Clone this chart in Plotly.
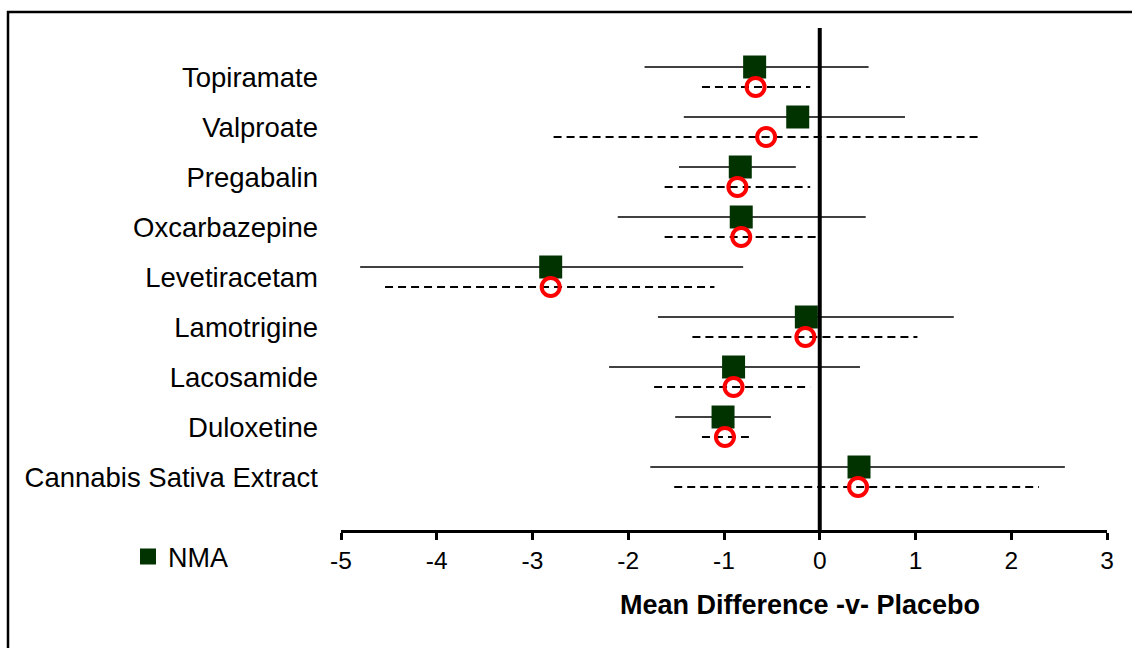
import plotly.graph_objects as go

# Treatments, listed top to bottom
treatments = ["Topiramate", "Valproate", "Pregabalin", "Oxcarbazepine", "Levetiracetam",
              "Lamotrigine", "Lacosamide", "Duloxetine", "Cannabis Sativa Extract"]

# Network meta-analysis: mean difference vs placebo with 95% CI
nma_est = [-0.68, -0.23, -0.83, -0.82, -2.81, -0.14, -0.90, -1.01, 0.41]
nma_lo = [-1.83, -1.42, -1.47, -2.11, -4.80, -1.69, -2.20, -1.51, -1.77]
nma_hi = [0.51, 0.89, -0.25, 0.48, -0.80, 1.40, 0.42, -0.51, 2.56]

# Direct (pairwise) estimates with 95% CI
pw_est = [-0.67, -0.56, -0.86, -0.82, -2.81, -0.15, -0.90, -0.99, 0.40]
pw_lo = [-1.23, -2.78, -1.62, -1.62, -4.54, -1.33, -1.73, -1.23, -1.52]
pw_hi = [-0.10, 1.65, -0.10, -0.02, -1.10, 1.02, -0.10, -0.74, 2.29]

x_ticks = [-5, -4, -3, -2, -1, 0, 1, 2, 3]

n = len(treatments)
row_y = [n - i for i in range(n)]
off = 0.2
sq_y = [r + off for r in row_y]
ci_y = [r - off for r in row_y]


def segments(lo, hi, ys):
    xs, yy = [], []
    for a, b, y in zip(lo, hi, ys):
        xs += [a, b, None]
        yy += [y, y, None]
    return xs, yy


FONT = "Liberation Sans, Arial, sans-serif"

fig = go.Figure()

sx, sy = segments(nma_lo, nma_hi, sq_y)
fig.add_trace(go.Scatter(x=sx, y=sy, mode="lines", line=dict(color="black", width=1.5),
                         showlegend=False, hoverinfo="skip"))
dx, dy = segments(pw_lo, pw_hi, ci_y)
fig.add_trace(go.Scatter(x=dx, y=dy, mode="lines",
                         line=dict(color="black", width=2, dash="8px,5px"),
                         showlegend=False, hoverinfo="skip"))

fig.add_trace(go.Scatter(x=nma_est, y=sq_y, mode="markers", name="NMA",
                         marker=dict(symbol="square", size=23, color="#003300",
                                     line=dict(width=0))))
fig.add_trace(go.Scatter(x=pw_est, y=ci_y, mode="markers", name="Pairwise", showlegend=False,
                         marker=dict(symbol="circle-open", size=18, color="#ff0000",
                                     line=dict(width=4, color="#ff0000"))))

# zero line
fig.add_shape(type="line", xref="x", yref="paper", x0=0, x1=0, y0=0, y1=1,
              line=dict(color="black", width=4))

# outer frame
fig.add_shape(type="rect", xref="paper", yref="paper",
              x0=(8 - 341) / 766, x1=(1140 - 341) / 766,
              y0=(530 - 660) / 502, y1=(530 - 12) / 502,
              line=dict(color="black", width=2.5), fillcolor="rgba(0,0,0,0)")

fig.add_annotation(text="<b>Mean Difference -v- Placebo</b>", xref="paper", yref="paper",
                   x=(800 - 341) / 766, y=(530 - 605) / 502, showarrow=False,
                   xanchor="center", yanchor="middle",
                   font=dict(family=FONT, size=27, color="black"))

fig.update_layout(
    width=1132, height=648,
    margin=dict(l=341, r=25, t=28, b=118),
    paper_bgcolor="white", plot_bgcolor="white",
    font=dict(family=FONT, color="black"),
    showlegend=True,
    legend=dict(x=(128 - 341) / 766, y=(530 - 557) / 502, xanchor="left", yanchor="middle",
                font=dict(family=FONT, size=27, color="black"), bgcolor="rgba(0,0,0,0)"),
    xaxis=dict(range=[-5, 3], tickvals=x_ticks, ticktext=[str(t) for t in x_ticks],
               showgrid=False, zeroline=False, showline=True, linecolor="black", linewidth=3,
               ticks="outside", ticklen=7, tickwidth=3, tickcolor="black",
               tickfont=dict(family=FONT, size=24.5, color="black")),
    yaxis=dict(range=[-0.06, 9.98], tickvals=row_y, ticktext=treatments,
               showgrid=False, zeroline=False, showline=False, ticks="",
               ticklabelstandoff=22,
               tickfont=dict(family=FONT, size=27.5, color="black")),
)

fig.write_html("out.html")
